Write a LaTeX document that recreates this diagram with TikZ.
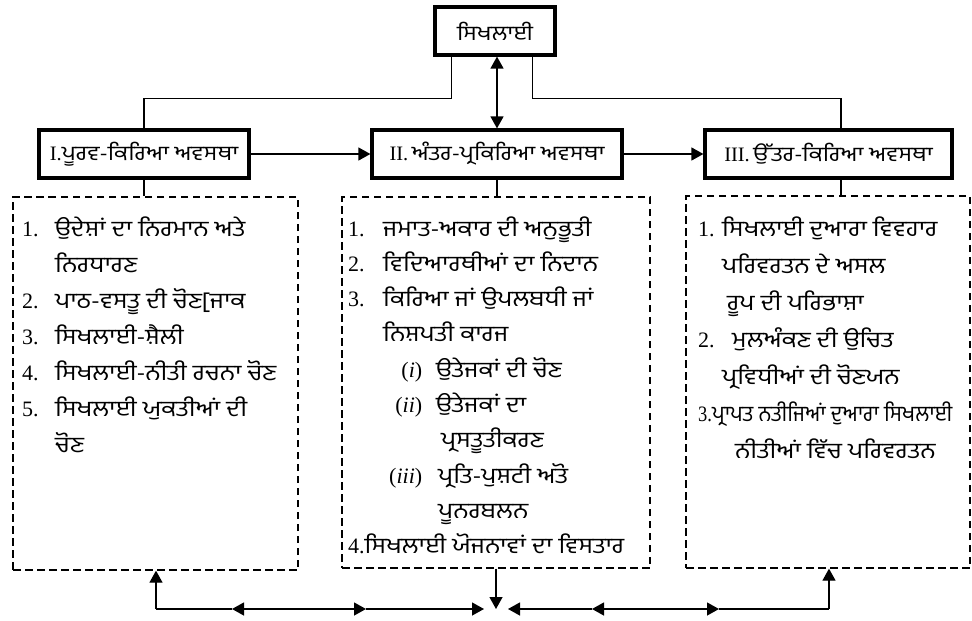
\documentclass[tikz,border=0pt]{standalone}
\usepackage{fontspec}
\usepackage{array}
\setmainfont{Liberation Serif}
\newfontfamily\gur[Script=Gurmukhi, FakeStretch=1.15]{Hind Jalandhar}
\usetikzlibrary{arrows.meta,positioning}

\tikzset{
  stage/.style={draw, line width=3.2pt, minimum height=48pt, inner sep=0pt, font=\fontsize{20.5}{24}\selectfont},
  listbox/.style={draw, dash pattern=on 7.5pt off 4.5pt, line width=1.3pt, inner sep=0pt},
  listtext/.style={anchor=base west, inner sep=0pt, font=\fontsize{22}{36}\selectfont},
  conn/.style={line width=1.3pt},
  arr/.style={conn, -{Triangle[length=12pt,width=13pt]}},
  darr/.style={conn, {Triangle[length=12pt,width=13pt]}-{Triangle[length=12pt,width=13pt]}}
}

\begin{document}
\begin{tikzpicture}[x=1pt,y=-1pt]
  \useasboundingbox (0,0) rectangle (972,621);

%Boxes
  \node[stage, minimum width=120pt] (top) at (495,31) {\gur ਸਿਖਲਾਈ};
  \node[stage, minimum width=210pt] (pre) at (144,154) {I.{\gur ਪੂਰਵ-ਕਿਰਿਆ ਅਵਸਥਾ}};
  \node[stage, minimum width=250pt] (inter) at (497,154) {II.\,{\gur ਅੰਤਰ-ਪ੍ਰਕਿਰਿਆ ਅਵਸਥਾ}};
  \node[stage, minimum width=247pt] (post) at (828.5,154) {III.\,{\gur ਉੱਤਰ-ਕਿਰਿਆ ਅਵਸਥਾ}};

%Dashed boxes
  \node[listbox, minimum width=285pt, minimum height=373pt] (prebox) at (155.5,383.5) {};
  \node[listbox, minimum width=308pt, minimum height=371pt] (interbox) at (496,382.5) {};
  \node[listbox, minimum width=284pt, minimum height=372pt] (postbox) at (828,382) {};

%Lists
  \node[listtext] (prelist) at (22,236) {%
    \begin{tabular}[t]{@{}p{33pt}@{}>{\gur}l@{}}
      1. & ਉਦੇਸ਼ਾਂ ਦਾ ਨਿਰਮਾਨ ਅਤੇ\\
         & ਨਿਰਧਾਰਣ\\
      2. & ਪਾਠ-ਵਸਤੂ ਦੀ ਚੋਣ[ਜਾਕ\\
      3. & ਸਿਖਲਾਈ-ਸ਼ੈਲੀ\\
      4. & ਸਿਖਲਾਈ-ਨੀਤੀ ਰਚਨਾ ਚੋਣ\\
      5. & ਸਿਖਲਾਈ ਯੁਕਤੀਆਂ ਦੀ\\
         & ਚੋਣ
    \end{tabular}};
  \node[listtext, font=\fontsize{22}{35.3}\selectfont] (interlist) at (348,236) {%
    \begin{tabular}[t]{@{}p{35pt}@{}>{\gur}l@{}}
      1. & ਜਮਾਤ-ਅਕਾਰ ਦੀ ਅਨੁਭੂਤੀ\\
      2. & ਵਿਦਿਆਰਥੀਆਂ ਦਾ ਨਿਦਾਨ\\
      3. & ਕਿਰਿਆ ਜਾਂ ਉਪਲਬਧੀ ਜਾਂ\\
         & ਨਿਸ਼ਪਤੀ ਕਾਰਜ\\
         & \makebox[39pt][r]{\rmfamily({\itshape i})}\hspace{14pt}ਉਤੇਜਕਾਂ ਦੀ ਚੋਣ\\
         & \makebox[39pt][r]{\rmfamily({\itshape ii})}\hspace{14pt}ਉਤੇਜਕਾਂ ਦਾ\\
         & \hspace{58pt}ਪ੍ਰਸਤੂਤੀਕਰਣ\\
         & \makebox[39pt][r]{\rmfamily({\itshape iii})}\hspace{16pt}ਪ੍ਰਤਿ-ਪੁਸ਼ਟੀ ਅਤੋ\\
         & \hspace{55pt}ਪੂਨਰਬਲਨ\\
      \multicolumn{2}{@{}l@{}}{4.{\gur ਸਿਖਲਾਈ ਯੋਜਨਾਵਾਂ ਦਾ ਵਿਸਤਾਰ}}
    \end{tabular}};
  \node[listtext, font=\fontsize{22}{37}\selectfont] (postlist) at (698,236) {%
    \begin{tabular}[t]{@{}p{24pt}@{}>{\gur}l@{}}
      1. & ਸਿਖਲਾਈ ਦੁਆਰਾ ਵਿਵਹਾਰ\\
         & ਪਰਿਵਰਤਨ ਦੇ ਅਸਲ\\
         & \hspace{5pt}ਰੂਪ ਦੀ ਪਰਿਭਾਸ਼ਾ\\
      2. & \hspace{10pt}ਮੁਲਅੰਕਣ ਦੀ ਉਚਿਤ\\
         & ਪ੍ਰਵਿਧੀਆਂ ਦੀ ਚੋਣਯਨ\\
      \multicolumn{2}{@{}l@{}}{\scalebox{0.84}[1]{3.\gur ਪ੍ਰਾਪਤ ਨਤੀਜਿਆਂ ਦੁਆਰਾ ਸਿਖਲਾਈ}}\\
         & \hspace{13pt}ਨੀਤੀਆਂ ਵਿੱਚ ਪਰਿਵਰਤਨ
    \end{tabular}};

%Connectors
  \draw[conn] ([xshift=18pt]top.south west) -- ++(0,42) -| (pre.north);
  \draw[conn] ([xshift=-24pt]top.south east) -- ++(0,42) -| ([xshift=12.5pt]post.north);
  \draw[darr] (top.south -| inter.north) -- (inter.north);
  \draw[arr] (pre) -- (inter);
  \draw[arr] (inter) -- (post);
  \draw[conn] (pre.south) -- (pre.south |- prebox.north);
  \draw[conn] (inter.south) -- (inter.south |- interbox.north);
  \draw[conn] ([xshift=12.5pt]post.south) -- ([xshift=12.5pt]post.south |- postbox.north);

%Bottom line
  \coordinate (c0) at (156,609);
  \coordinate (c1) at (232,609);
  \coordinate (c2) at (366,609);
  \coordinate (c3) at (484,609);
  \coordinate (m)  at (496,609);
  \coordinate (c4) at (508,609);
  \coordinate (c5) at (592,609);
  \coordinate (c6) at (719,609);
  \coordinate (c7) at (829,609);
  \draw[arr] (c0) -- (c0 |- prebox.south);
  \draw[conn] (c0) -- (c1);
  \draw[darr] (c1) -- (c2);
  \draw[arr] (c2) -- (c3);
  \draw[arr] (interbox.south) -- (m);
  \draw[arr] (c5) -- (c4);
  \draw[darr] (c5) -- (c6);
  \draw[conn] (c6) -- (c7);
  \draw[arr] (c7) -- (c7 |- postbox.south);
\end{tikzpicture}
\end{document}
